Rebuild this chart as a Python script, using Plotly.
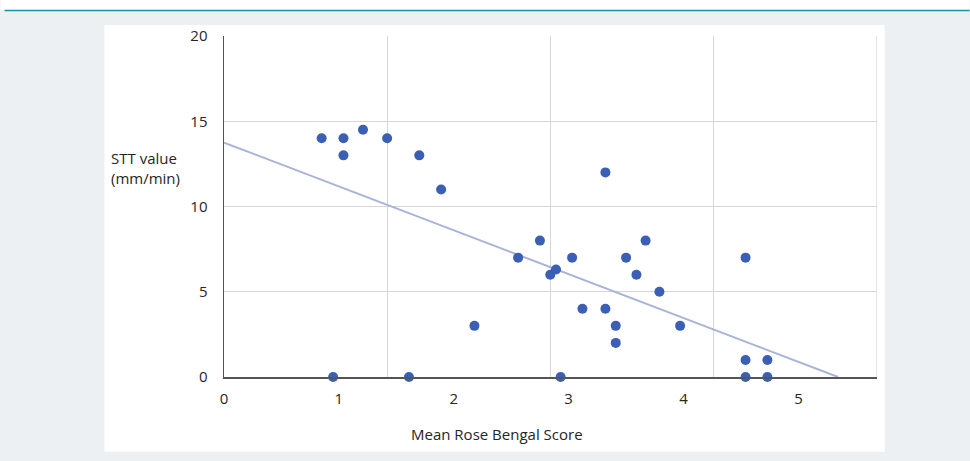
import plotly.graph_objects as go

# Data
rose_bengal = [0.85, 1.04, 1.04, 1.21, 1.42, 1.70, 1.89, 3.32,
               0.95, 1.61, 2.18, 2.56, 2.75, 2.84, 2.89, 3.03,
               3.12, 3.32, 3.41, 3.41, 3.50, 3.67, 3.59, 3.79,
               2.93, 3.97, 4.54, 4.54, 4.73, 4.54, 4.73]
stt_value = [14, 14, 13, 14.5, 14, 13, 11, 12,
             0, 0, 3, 7, 8, 6, 6.3, 7,
             4, 4, 3, 2, 7, 8, 6, 5,
             0, 3, 7, 1, 1, 0, 0]

trend_intercept = 13.75
trend_x_end = 5.345

x_ticks = [0, 1, 2, 3, 4, 5]
y_ticks = [0, 5, 10, 15, 20]
x_max = 5.684
y_max = 20

x_grid = [x_max * i / 4 for i in range(5)]

W, H = 970, 461
ml, mr, mt, mb = 223.7, 92.7, 36, 83.7
pw, ph = W - ml - mr, H - mt - mb


def px(x):
    return (x - ml) / pw


def py(y):
    return (H - mb - y) / ph


fig = go.Figure()

fig.add_trace(go.Scatter(
    x=[0, trend_x_end], y=[trend_intercept, 0], mode="lines",
    line=dict(color="#a7b4d8", width=2), hoverinfo="skip", showlegend=False,
))
fig.add_trace(go.Scatter(
    x=rose_bengal, y=stt_value, mode="markers",
    marker=dict(color="#3a5fb4", size=10),
    cliponaxis=False, showlegend=False,
))
# dummy trace on second x-axis for tick labels
fig.add_trace(go.Scatter(x=[0, x_max], y=[0, 0], xaxis="x2", mode="markers",
                         marker=dict(opacity=0), hoverinfo="skip", showlegend=False))

font = "Open Sans, Liberation Sans, sans-serif"
tc = "#262626"

fig.update_layout(
    width=W, height=H,
    margin=dict(l=ml, r=mr, t=mt, b=mb, pad=0),
    paper_bgcolor="#edf0f3",
    plot_bgcolor="#ffffff",
    font=dict(family=font, size=15, color=tc),
    xaxis=dict(
        range=[0, x_max], tickmode="array", tickvals=x_grid, showticklabels=False,
        showgrid=True, gridcolor="#d6d6d6", gridwidth=1.3, zeroline=False,
        showline=True, linecolor="#555555", linewidth=1.5, ticks="",
    ),
    xaxis2=dict(
        range=[0, x_max], overlaying="x", side="bottom", anchor="y",
        tickmode="array", tickvals=x_ticks, ticktext=[str(v) for v in x_ticks],
        showgrid=False, zeroline=False, showline=False, ticks="outside",
        ticklen=8, tickcolor="rgba(0,0,0,0)",
        tickfont=dict(family=font, size=15, color=tc),
    ),
    yaxis=dict(
        range=[0, y_max], tickmode="array", tickvals=y_ticks,
        showgrid=True, gridcolor="#d6d6d6", gridwidth=1.3, zeroline=False,
        showline=True, linecolor="#555555", linewidth=1.5,
        ticks="outside", ticklen=12, tickcolor="rgba(0,0,0,0)",
        tickfont=dict(family=font, size=15, color=tc),
    ),
    shapes=[
        dict(type="rect", xref="paper", yref="paper", x0=px(0), x1=px(W), y0=py(0), y1=py(10),
             fillcolor="#ffffff", line=dict(width=0), layer="below"),
        dict(type="line", xref="paper", yref="paper", x0=px(4), x1=px(W), y0=py(10.5), y1=py(10.5),
             line=dict(color="#1b8fa6", width=1.6), layer="below"),
        dict(type="rect", xref="paper", yref="paper", x0=px(104), x1=px(885), y0=py(25), y1=py(452),
             fillcolor="#ffffff", line=dict(width=0), layer="below"),
        dict(type="line", xref="x", yref="y", x0=x_max, x1=x_max, y0=0, y1=y_max,
             line=dict(color="#d6d6d6", width=1.3), layer="below"),
    ],
    annotations=[
        dict(text="STT value<br>(mm/min)", xref="paper", yref="paper",
             x=px(109), y=py(168), xanchor="left", yanchor="middle", align="left",
             showarrow=False, font=dict(family=font, size=15, color=tc)),
        dict(text="Mean Rose Bengal Score", xref="paper", yref="paper",
             x=px(497), y=py(434), xanchor="center", yanchor="middle",
             showarrow=False, font=dict(family=font, size=15, color=tc)),
    ],
)

fig.write_html(
    "out.html",
    config={"displayModeBar": False, "staticPlot": True},
    post_script="document.body.style.margin='0';document.body.style.padding='0';"
                "document.body.style.overflow='hidden';",
)
